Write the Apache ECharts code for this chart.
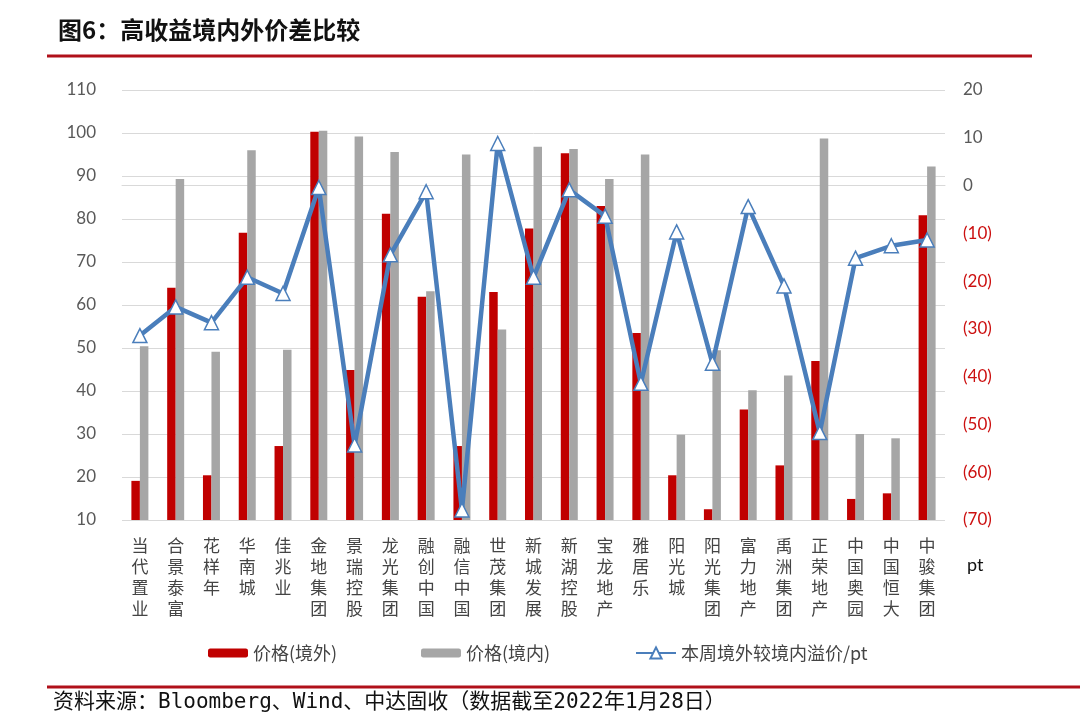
<!DOCTYPE html>
<html><head><meta charset="utf-8">
<script src="https://cdn.jsdelivr.net/npm/echarts@6/dist/echarts.min.js"></script>
<style>html,body{margin:0;padding:0;background:#fff}#c{width:1080px;height:721px}</style>
</head><body><div id="c"></div>
<script>
const categories = ['当代置业','合景泰富','花样年','华南城','佳兆业','金地集团','景瑞控股','龙光集团','融创中国','融信中国','世茂集团','新城发展','新湖控股','宝龙地产','雅居乐','阳光城','阳光集团','富力地产','禹洲集团','正荣地产','中国奥园','中国恒大','中骏集团'];
const priceOffshore = [19.1, 64.0, 20.4, 76.8, 27.2, 100.3, 44.9, 81.2, 61.9, 27.2, 63.0, 77.8, 95.3, 83.0, 53.5, 20.4, 12.5, 35.7, 22.7, 47.0, 14.9, 16.2, 80.9];
const priceOnshore  = [50.4, 89.3, 49.1, 96.0, 49.6, 100.5, 99.2, 95.6, 63.2, 95.0, 54.3, 96.8, 96.3, 89.3, 95.0, 29.8, 49.5, 40.2, 43.6, 98.7, 30.0, 29.0, 92.2];
const premium       = [-31.4, -25.4, -28.7, -19.2, -22.6, -0.4, -54.3, -14.5, -1.3, -67.9, 8.8, -19.2, -0.9, -6.4, -41.4, -9.7, -37.2, -4.4, -21.0, -51.7, -15.2, -12.6, -11.4];
const leftTicks = {min: 10, max: 110, interval: 10};
const rightTicks = {min: -70, max: 20, interval: 10};

const cjk = '"Noto Sans CJK SC", sans-serif';
const num = 'Lato, "Open Sans", sans-serif';
const chart = echarts.init(document.getElementById('c'));
chart.setOption({
  animation: false,
  backgroundColor: '#fff',
  title: {
    text: '图6：高收益境内外价差比较', left: 53, top: 13,
    textStyle: {fontFamily: cjk, fontSize: 24, fontWeight: 'bold', color: '#111'}
  },
  graphic: [
    {type: 'line', shape: {x1: 47, y1: 56, x2: 1032, y2: 56}, style: {stroke: '#b0101a', lineWidth: 3}},
    {type: 'line', shape: {x1: 47, y1: 687, x2: 1080, y2: 687}, style: {stroke: '#b0101a', lineWidth: 3}},
    {type: 'text', left: 53, top: 692, style: {text: '资料来源：Bloomberg、Wind、中达固收（数据截至2022年1月28日）', font: '21px "DejaVu Sans Mono", "Noto Sans CJK SC", monospace', fill: '#111'}},
    {type: 'text', left: 967, top: 556, style: {text: 'pt', font: '18px ' + num, fill: '#111'}}
  ],
  legend: [
    {data: ['价格(境外)'], left: 203, top: 639, itemWidth: 40, itemHeight: 9, itemGap: 8,
     textStyle: {fontFamily: cjk, fontSize: 18, color: '#444'}},
    {data: ['价格(境内)'], left: 416, top: 639, itemWidth: 40, itemHeight: 9,
     textStyle: {fontFamily: cjk, fontSize: 18, color: '#444'}},
    {data: ['本周境外较境内溢价/pt'], left: 630, top: 639, itemWidth: 40, itemHeight: 14,
     textStyle: {fontFamily: cjk, fontSize: 18, color: '#444'}}
  ],
  grid: {left: 122, right: 135, top: 90, bottom: 201},
  xAxis: {
    type: 'category', data: categories,
    axisLine: {lineStyle: {color: '#d9d9d9', width: 1}},
    axisTick: {show: false},
    axisLabel: {
      interval: 0, margin: 15, verticalAlign: 'top', lineHeight: 21,
      fontFamily: cjk, fontSize: 17, color: '#444',
      formatter: v => v.split('').join('\n')
    }
  },
  yAxis: [
    {type: 'value', min: leftTicks.min, max: leftTicks.max, interval: leftTicks.interval,
     axisLine: {show: false}, axisTick: {show: false},
     splitLine: {lineStyle: {color: '#d9d9d9', width: 1}},
     axisLabel: {margin: 26, fontFamily: num, fontSize: 17, color: '#595959'}},
    {type: 'value', min: rightTicks.min, max: rightTicks.max, interval: rightTicks.interval,
     position: 'right', axisLine: {show: false}, axisTick: {show: false}, splitLine: {show: false},
     axisLabel: {margin: 18, fontFamily: num, fontSize: 17, color: '#595959',
       formatter: v => v < 0 ? '{r|(' + (-v) + ')}' : String(v),
       rich: {r: {color: '#cc1010', fontFamily: num, fontSize: 17}}}}
  ],
  series: [
    {name: '价格(境外)', type: 'bar', data: priceOffshore, barWidth: 8.5, barGap: '0%',
     itemStyle: {color: '#c00000'}},
    {name: '价格(境内)', type: 'bar', data: priceOnshore, barWidth: 8.5, barGap: '0%',
     itemStyle: {color: '#a6a6a6'}},
    {name: '本周境外较境内溢价/pt', type: 'line', yAxisIndex: 1, data: premium, z: 5,
     symbol: 'triangle', symbolSize: 14,
     lineStyle: {color: '#4a7ebb', width: 4.5},
     itemStyle: {color: '#fff', borderColor: '#4a7ebb', borderWidth: 1.5}}
  ]
});
</script></body></html>
